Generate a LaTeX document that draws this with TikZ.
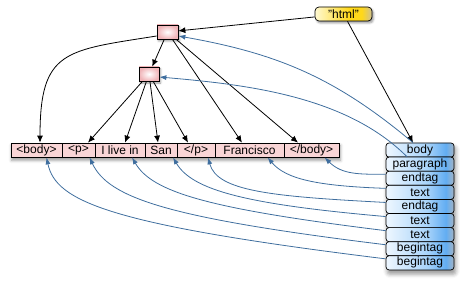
\documentclass[tikz,border=0pt]{standalone}
\usepackage{fontspec}
\setmainfont{Liberation Sans}
\usetikzlibrary{arrows.meta,shadows.blur,backgrounds}

\definecolor{cellpink}{HTML}{F9D5D6}
\definecolor{elempink}{HTML}{F0B4B8}
\definecolor{linkblue}{HTML}{3F6E9E}
\definecolor{stackl}{HTML}{EEF7FF}
\definecolor{stackm}{HTML}{A9D4FA}
\definecolor{stackb}{HTML}{62ADF2}
\definecolor{stackg}{HTML}{A4B4C4}
\definecolor{htmll}{HTML}{FFF9D2}
\definecolor{htmlm}{HTML}{FFD81A}
\definecolor{htmlg}{HTML}{CFC196}

% shadings run from x=25bp to x=75bp over the node
\pgfdeclarehorizontalshading{entryshade}{100bp}{color(0bp)=(stackl); color(25bp)=(stackl);
  color(55bp)=(stackm); color(69bp)=(stackb); color(75bp)=(stackg); color(100bp)=(stackg)}
\pgfdeclarehorizontalshading{htmlshade}{100bp}{color(0bp)=(htmll); color(25bp)=(htmll);
  color(55bp)=(htmlm); color(66bp)=(htmlm); color(75bp)=(htmlg); color(100bp)=(htmlg)}

\begin{document}
\begin{tikzpicture}[x=1pt, y=1pt,
  every node/.style={font=\fontsize{12}{14}\selectfont, inner sep=0pt},
  cell/.style={draw, line width=0.7pt, fill=cellpink, minimum height=14pt},
  elem/.style={draw, line width=0.7pt, inner color=white, outer color=elempink,
    minimum width=20pt, minimum height=14pt,
    blur shadow={shadow xshift=1.5pt, shadow yshift=-2pt, shadow blur radius=2pt}},
  entry/.style={draw, line width=0.7pt, rounded corners=3pt, shading=entryshade,
    minimum width=68pt, minimum height=14.1pt},
  link/.style={draw, line width=0.8pt, -{Latex[length=7pt,width=6pt]}},
  backlink/.style={draw=linkblue, line width=0.8pt, -{Latex[length=7pt,width=5pt]}}]
\useasboundingbox (0,0) rectangle (465,-283);

% element boxes and the document node
\node[draw, line width=0.7pt, rounded corners=4pt, shading=htmlshade, minimum width=57pt,
  minimum height=14pt, blur shadow={shadow xshift=1.5pt, shadow yshift=-2pt, shadow blur radius=2pt}]
  (h) at (343.5,-14) {"html"};
\node[elem, minimum width=21pt] (e1) at (167.5,-32) {};
\node[elem] (e2) at (149,-74) {};

% token row
\node[cell, minimum width=51pt] (t1) at (36.5,-150) {<body>};
\node[cell, minimum width=33pt] (t2) at (78.5,-150) {<p>};
\node[cell, minimum width=50pt] (t3) at (120,-150) {I live in};
\node[cell, minimum width=32pt] (t4) at (161,-150) {San};
\node[cell, minimum width=38pt] (t5) at (196,-150) {</p>};
\node[cell, minimum width=69pt] (t6) at (249.5,-150) {Francisco};
\node[cell, minimum width=55pt] (t7) at (311.5,-150) {</body>};

% stack
\node[entry] (s1) at (420,-150.05) {body};
\node[entry] (s2) at (420,-164.15) {paragraph};
\node[entry] (s3) at (420,-178.25) {endtag};
\node[entry] (s4) at (420,-192.35) {text};
\node[entry] (s5) at (420,-206.45) {endtag};
\node[entry] (s6) at (420,-220.55) {text};
\node[entry] (s7) at (420,-234.65) {text};
\node[entry] (s8) at (420,-248.75) {begintag};
\node[entry] (s9) at (420,-262.85) {begintag};

\begin{scope}[on background layer]
\path[blur shadow={shadow xshift=1pt, shadow yshift=-3pt, shadow blur radius=3pt}]
  (t1.north west) rectangle (t7.south east);
\path[rounded corners=3pt, blur shadow={shadow xshift=1.5pt, shadow yshift=-4pt, shadow blur radius=4pt}]
  (s1.north west) rectangle (s9.south east);
\end{scope}

% tree edges
\path[link] (h) -- (e1);
\path[link] ([xshift=4pt]h.south) -- ([xshift=-7pt]s1.north);
\path[link] ([yshift=-4pt]e1.west) to[out=189, in=90, looseness=1.5] ([xshift=3.5pt]t1.north);
\path[link] (e1) -- (e2);
\path[link] (e1) -- ([xshift=-7.5pt]t6.north);
\path[link] (e1) -- ([xshift=-13.5pt]t7.north);
\path[link] (e2) -- ([xshift=9.5pt]t2.north);
\path[link] (e2) -- ([xshift=5pt]t3.north);
\path[link] (e2) -- ([xshift=-3pt]t4.north);
\path[link] (e2) -- ([xshift=-8pt]t5.north);

% stack entries back to their tokens
\path[backlink] ([xshift=-7pt]s1.north) to[out=140, in=-10] ([yshift=-4pt]e1.east);
\path[backlink] ([xshift=-13pt]s2.north) to[out=135, in=-5, looseness=0.85] ([yshift=-3pt]e2.east);
\path[backlink] ([yshift=4pt]s3.west) to[out=180, in=-45, out distance=25pt, in distance=25pt] ([xshift=13pt]t7.south);
\path[backlink] ([yshift=4pt]s4.west) to[out=178, in=-50, out distance=70pt, in distance=28pt] ([xshift=18pt]t6.south);
\path[backlink] ([yshift=4pt]s5.west) to[out=177, in=-75, out distance=115pt, in distance=35pt] ([xshift=12pt]t5.south);
\path[backlink] ([yshift=4pt]s6.west) to[out=175, in=-60, out distance=140pt, in distance=38pt] ([xshift=12pt]t4.south);
\path[backlink] ([yshift=4pt]s7.west) to[out=173, in=-60, out distance=180pt, in distance=40pt] ([xshift=12pt]t3.south);
\path[backlink] ([yshift=4pt]s8.west) to[out=173, in=-65, out distance=220pt, in distance=45pt] ([xshift=11pt]t2.south);
\path[backlink] ([yshift=4pt]s9.west) to[out=173, in=-78, out distance=280pt, in distance=45pt] ([xshift=10pt]t1.south);
\end{tikzpicture}
\end{document}
